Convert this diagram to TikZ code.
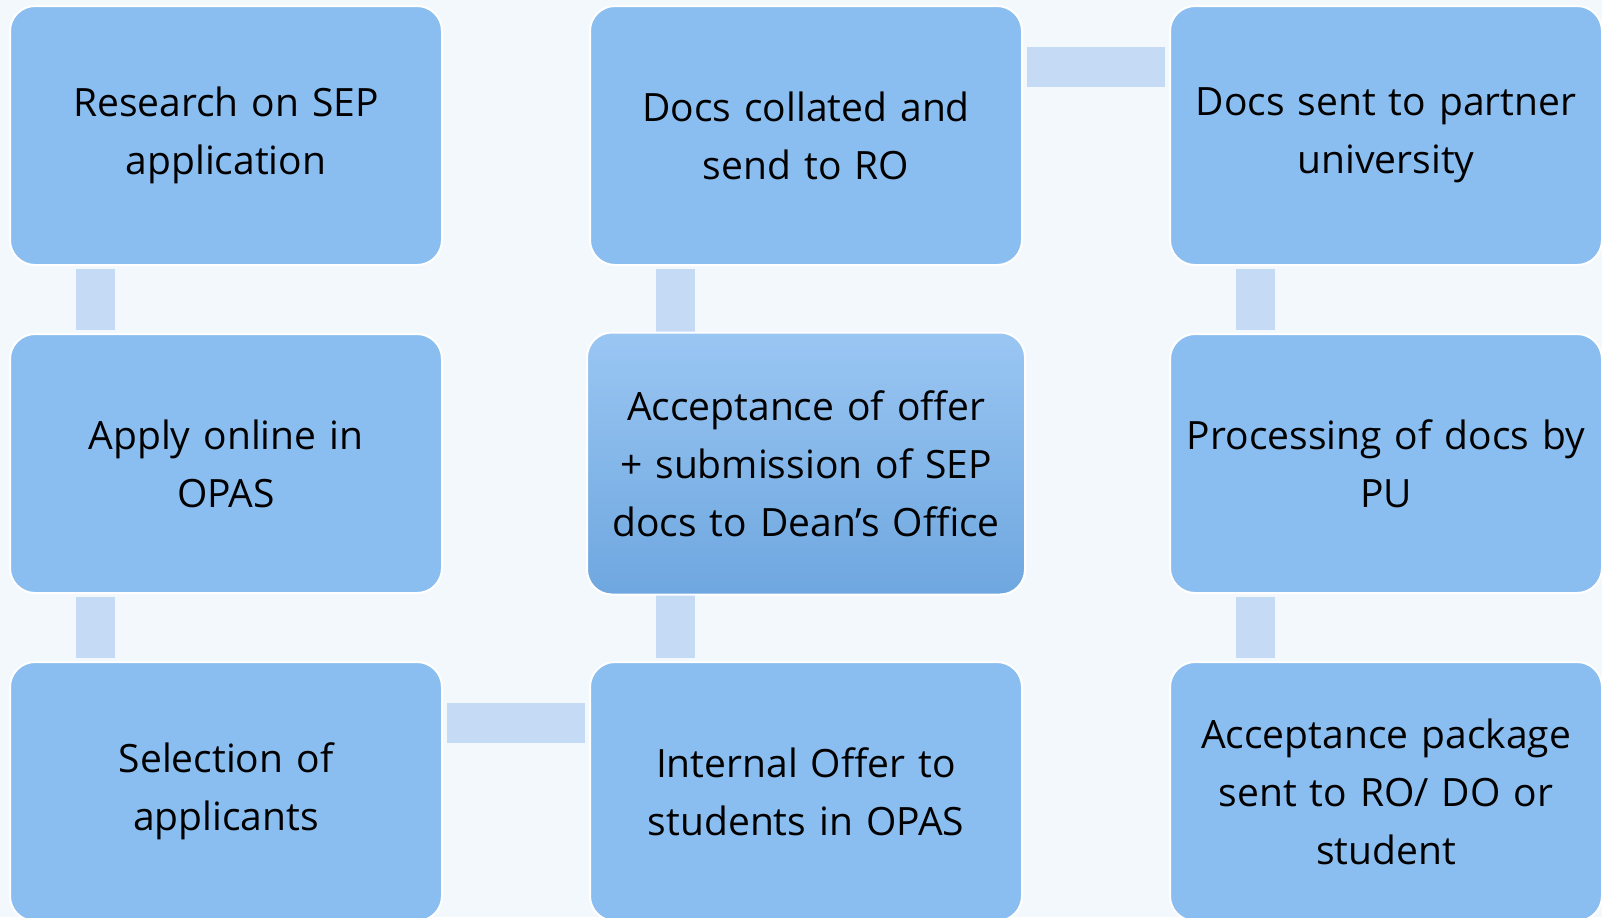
\documentclass[tikz,border=0pt]{standalone}
\usepackage{fontspec}
\setmainfont{Open Sans}
\usetikzlibrary{calc}
\definecolor{bgc}{HTML}{F3F8FD}
\definecolor{boxc}{HTML}{8BBEF0}
\definecolor{connc}{HTML}{C5DBF5}
\definecolor{gtop}{HTML}{9AC6F3}
\definecolor{gbot}{HTML}{6EA7DF}
\tikzset{
  stepbox/.style={rectangle, rounded corners=12.5pt, draw=white, line width=1pt,
    fill=boxc, minimum width=216pt, minimum height=129.5pt, inner sep=0pt,
    align=center, text width=214pt, font=\fontsize{19.5}{29}\selectfont},
  hibox/.style={stepbox, fill=none, top color=gtop, bottom color=gbot,
    minimum width=219pt, minimum height=131pt},
  connbar/.style={fill=connc}
}
\begin{document}
\begin{tikzpicture}[x=0.5pt,y=-0.5pt]
\fill[bgc] (0,0) rectangle (1602,917);
\useasboundingbox (0,0) rectangle (1602,917);
\node[stepbox] (a1) at (226,135.5) {Research on SEP\\application};
\node[stepbox] (a2) at (226,463.5) {Apply online in\\OPAS};
\node[stepbox] (a3) at (226,791.5) {Selection of\\applicants};
\node[stepbox] (b3) at (806,791.5) {Internal Offer to\\students in OPAS};
\node[stepbox] (b1) at (806,135.5) {Docs collated and\\send to RO};
\node[stepbox] (c1) at (1386,135.5) {Docs sent to partner\\university};
\node[stepbox] (c2) at (1386,463.5) {Processing of docs by\\PU};
\node[stepbox] (c3) at (1386,791.5) {Acceptance package\\sent to RO/ DO or\\student};
\fill[connbar] ($(a1.south west)+(67,3)$) rectangle ($(a2.north west)+(106,-3)$);
\fill[connbar] ($(a2.south west)+(67,3)$) rectangle ($(a3.north west)+(106,-3)$);
\fill[connbar] ($(a3.north east)+(4,42)$) rectangle ($(b3.north west)+(-4,82)$);
\fill[connbar] ($(b1.south west)+(67,3)$) rectangle ($(b3.north west)+(106,-3)$);
\fill[connbar] ($(b1.north east)+(4,42)$) rectangle ($(c1.north west)+(-4,82)$);
\fill[connbar] ($(c1.south west)+(67,3)$) rectangle ($(c2.north west)+(106,-3)$);
\fill[connbar] ($(c2.south west)+(67,3)$) rectangle ($(c3.north west)+(106,-3)$);
\node[hibox] (b2) at (806,463.5) {Acceptance of offer\\+ submission of SEP\\docs to Dean’s Office};
\end{tikzpicture}
\end{document}
